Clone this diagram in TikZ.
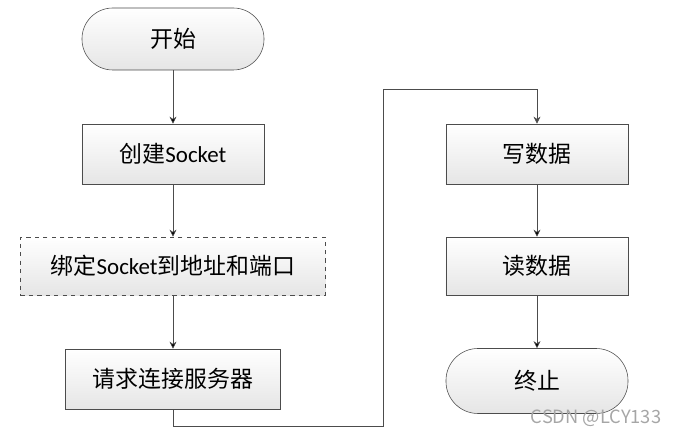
\documentclass[tikz,border=0pt]{standalone}
\usepackage{fontspec}
\setmainfont{Carlito}
\newfontfamily\cjk{Noto Sans CJK SC}
\usetikzlibrary{arrows.meta}

\begin{document}
\begin{tikzpicture}[x=0.025cm,y=-0.025cm]
  \tikzset{stepbox/.style = {draw=black!70,top color=white,bottom color=black!10,minimum width=4.55cm,minimum height=1.5cm,inner sep=2pt,font=\fontsize{16.3}{19}\selectfont}}
  \tikzset{terminal/.style = {stepbox,rounded corners=0.77cm,minimum height=1.55cm}}
  \tikzset{flow/.style = {draw=black!70,-{Stealth[length=5pt,width=5pt]}}}

\useasboundingbox (0,0) rectangle (680,438);

\node[terminal] (start)  at (173,39) {\cjk 开始};
\node[stepbox] (create)  at (173,154) {{\cjk 创建}Socket};
\node[stepbox,dashed,minimum width=7.625cm,minimum height=1.45cm] (bind)  at (173,266) {{\cjk 绑定}Socket{\cjk 到地址和端口}};
\node[stepbox,minimum width=5.375cm] (request)  at (173,379) {\cjk 请求连接服务器};

\node[stepbox] (write)  at (537,154) {\cjk 写数据};
\node[stepbox,minimum height=1.45cm] (read)  at (537,266) {\cjk 读数据};
\node[terminal,minimum height=1.625cm,rounded corners=0.8cm] (stop)  at (537,381) {\cjk 终止};

\coordinate (low)  at (383,426);
\coordinate (high)  at (383,89);

  \path[flow] (start) edge (create);
  \path[flow] (create) edge (bind);
  \path[flow] (bind) edge (request);
    \draw[flow] (request.south) |- (low) -- (high) -| (write.north);
  \path[flow] (write) edge (read);
  \path[flow] (read) edge (stop);

\node[text=black!35,font=\cjk\fontsize{13}{15}\selectfont] (mark)  at (596,418) {CSDN @LCY133};

\end{tikzpicture}
\end{document}
